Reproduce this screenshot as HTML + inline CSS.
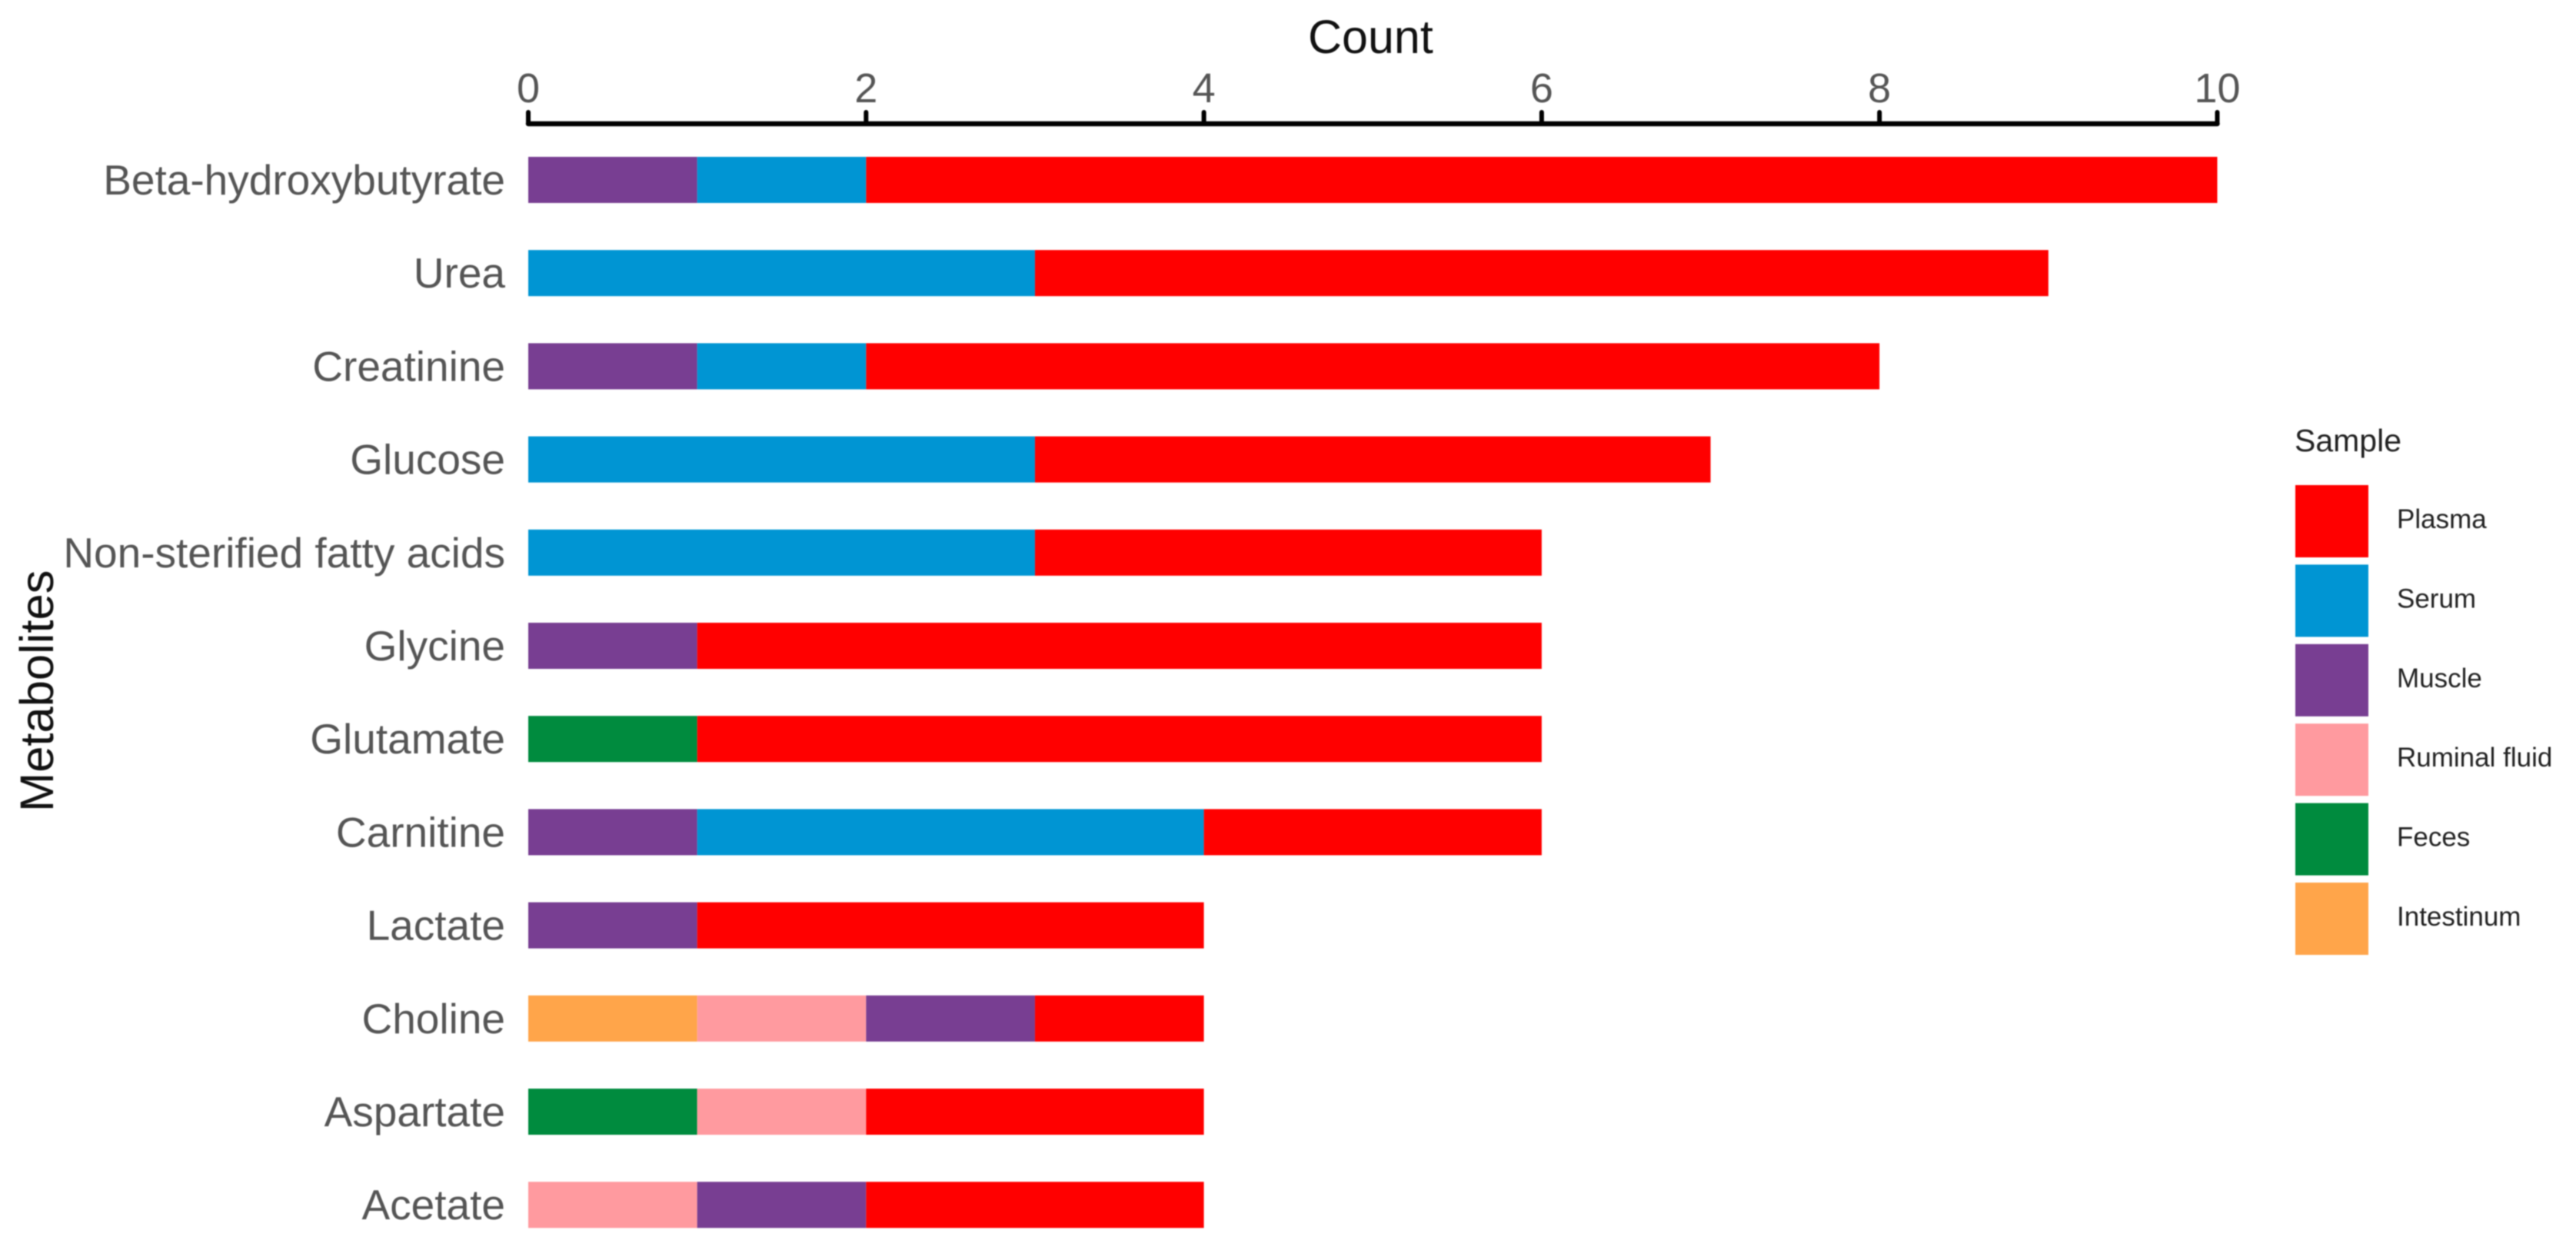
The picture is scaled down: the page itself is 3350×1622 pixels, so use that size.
<!DOCTYPE html>
<html lang="en">
<head>
<meta charset="utf-8">
<title>Metabolites by sample count</title>
<style>
  html, body { margin: 0; padding: 0; background: #fff; }
  svg { display: block; font-family: "Liberation Sans", sans-serif; filter: blur(0.7px); }
</style>
</head>
<body>
<svg id="chart" xmlns="http://www.w3.org/2000/svg" width="3350" height="1622" viewBox="0 0 3350 1622">
  <rect x="0" y="0" width="3350" height="1622" fill="#ffffff"/>
  <text x="1701" y="69" font-size="61" fill="#111111">Count</text>
  <text transform="translate(69 1056) rotate(-90)" font-size="61.5" fill="#111111">Metabolites</text>
  <text x="2984" y="587" font-size="41" fill="#222222">Sample</text>
  <g id="bars"></g>
  <g id="axis"></g>
  <g id="ylabels"></g>
  <g id="legend"></g>
</svg>
<script>
const categories = ["Beta-hydroxybutyrate", "Urea", "Creatinine", "Glucose", "Non-sterified fatty acids", "Glycine", "Glutamate", "Carnitine", "Lactate", "Choline", "Aspartate", "Acetate"];
const plasma = [8, 6, 6, 4, 3, 5, 5, 2, 3, 1, 2, 2];
const serum = [1, 3, 1, 3, 3, 0, 0, 3, 0, 0, 0, 0];
const muscle = [1, 0, 1, 0, 0, 1, 0, 1, 1, 1, 0, 1];
const ruminalFluid = [0, 0, 0, 0, 0, 0, 0, 0, 0, 1, 1, 1];
const feces = [0, 0, 0, 0, 0, 0, 1, 0, 0, 0, 1, 0];
const intestinum = [0, 0, 0, 0, 0, 0, 0, 0, 0, 1, 0, 0];
const xTicks = [0, 2, 4, 6, 8, 10];
const legendLabels = ["Plasma", "Serum", "Muscle", "Ruminal fluid", "Feces", "Intestinum"];

const NS = "http://www.w3.org/2000/svg";
const seriesValues = [plasma, serum, muscle, ruminalFluid, feces, intestinum];
const seriesColors = ["#ff0000", "#0095d3", "#783e92", "#ff9a9f", "#008b3e", "#ffa54a"];
const seriesKeys = ["plasma", "serum", "muscle", "ruminal-fluid", "feces", "intestinum"];
const stackOrder = [5, 4, 3, 2, 1, 0];

const X0 = 687, XUNIT = 219.65, BAND0 = 234, BANDSTEP = 121.2, BARH = 60, AXISY = 161;
function xScale(v) { return X0 + v * XUNIT; }
function yScale(i) { return BAND0 + i * BANDSTEP; }
function slug(s) { return s.toLowerCase().replace(/[^a-z0-9]+/g, "-"); }
function make(tag, attrs, parent) {
  const el = document.createElementNS(NS, tag);
  for (const k in attrs) el.setAttribute(k, attrs[k]);
  parent.appendChild(el);
  return el;
}

const barsG = document.getElementById("bars");
categories.forEach(function (cat, i) {
  let cum = 0;
  stackOrder.forEach(function (s) {
    const v = seriesValues[s][i];
    if (!v) return;
    const r = make("rect", { x: xScale(cum), y: yScale(i) - BARH / 2, width: xScale(cum + v) - xScale(cum), height: BARH, fill: seriesColors[s] }, barsG);
    
    
    cum += v;
  });
});

const axisG = document.getElementById("axis");
const axisLine = make("line", { x1: xScale(0), x2: xScale(10), y1: AXISY, y2: AXISY, stroke: "#000000", "stroke-width": 6.5, "stroke-linecap": "round" }, axisG);


xTicks.forEach(function (t) {
  const tick = make("line", { x1: xScale(t), x2: xScale(t), y1: 146, y2: AXISY, stroke: "#000000", "stroke-width": 6, "stroke-linecap": "round" }, axisG);
  
  
  const lab = make("text", { x: xScale(t), y: 133, "text-anchor": "middle", "font-size": 54, fill: "#555555" }, axisG);
  
  
  lab.textContent = t;
});

const ylabG = document.getElementById("ylabels");
categories.forEach(function (cat, i) {
  const lab = make("text", { x: 657, y: yScale(i) + 19, "text-anchor": "end", "font-size": 55, fill: "#555555" }, ylabG);
  
  
  lab.textContent = cat;
});

const legendG = document.getElementById("legend");
legendLabels.forEach(function (name, i) {
  const top = 631 + i * 103.4;
  const sw = make("rect", { x: 2985, y: top, width: 95, height: 94, fill: seriesColors[i] }, legendG);
  
  
  const lab = make("text", { x: 3117, y: top + 56, "font-size": 35, fill: "#222222" }, legendG);
  
  
  lab.textContent = name;
});
</script>
</body>
</html>
